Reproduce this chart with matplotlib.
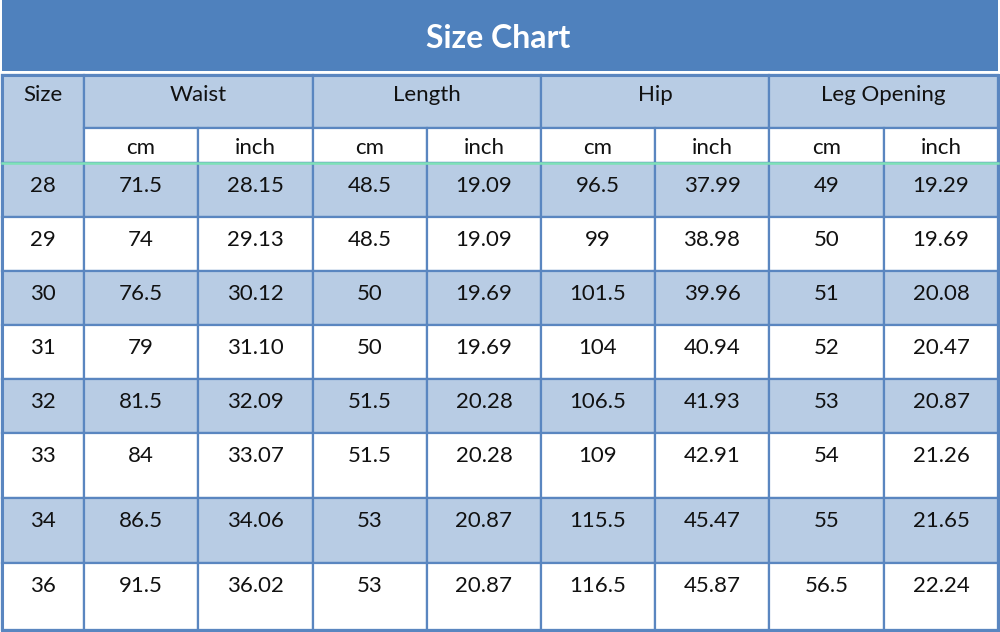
import matplotlib
matplotlib.use("Agg")
import matplotlib.pyplot as plt
from matplotlib.patches import Rectangle

plt.rcParams['font.family'] = ['Lato', 'DejaVu Sans']

# table content
title = "Size Chart"
groups = ["Waist", "Length", "Hip", "Leg Opening"]
units = ["cm", "inch"]
sizes = ['28', '29', '30', '31', '32', '33', '34', '36']
waist_cm = ['71.5', '74', '76.5', '79', '81.5', '84', '86.5', '91.5']
waist_in = ['28.15', '29.13', '30.12', '31.10', '32.09', '33.07', '34.06', '36.02']
length_cm = ['48.5', '48.5', '50', '50', '51.5', '51.5', '53', '53']
length_in = ['19.09', '19.09', '19.69', '19.69', '20.28', '20.28', '20.87', '20.87']
hip_cm = ['96.5', '99', '101.5', '104', '106.5', '109', '115.5', '116.5']
hip_in = ['37.99', '38.98', '39.96', '40.94', '41.93', '42.91', '45.47', '45.87']
leg_cm = ['49', '50', '51', '52', '53', '54', '55', '56.5']
leg_in = ['19.29', '19.69', '20.08', '20.47', '20.87', '21.26', '21.65', '22.24']

columns = [sizes, waist_cm, waist_in, length_cm, length_in, hip_cm, hip_in, leg_cm, leg_in]

# layout in pixels
xs = [2, 84, 198, 313, 427, 541, 655, 769, 884, 998]
head_top, head_mid, head_bot = 75, 128, 163
row_edges = [163, 217, 271, 325, 379, 433, 498, 563, 630]

BAND = '#4f81bd'
LIGHT = '#b8cce4'
LINE = '#5a86c0'
GREEN = '#7fe3b8'
TXT = '#111111'
FS = 16

fig = plt.figure(figsize=(10, 6.32), dpi=100)
ax = fig.add_axes([0, 0, 1, 1])
ax.set_xlim(0, 1000)
ax.set_ylim(632, 0)
ax.axis('off')


def cell(x0, x1, y0, y1, color):
    ax.add_patch(Rectangle((x0, y0), x1 - x0, y1 - y0, facecolor=color,
                           edgecolor=LINE, linewidth=1.6, zorder=1))


# title band
ax.add_patch(Rectangle((2, 0), 996, 71, facecolor=BAND, edgecolor='none'))
ax.text(498, 48, title, ha='center', va='baseline', color='white',
        fontsize=23, fontweight='bold')

# header
cell(xs[0], xs[1], head_top, head_bot, LIGHT)
ax.text((xs[0] + xs[1]) / 2, head_top + 26, "Size", ha='center', va='baseline',
        fontsize=FS, color=TXT)
for g, name in enumerate(groups):
    x0, x1 = xs[1 + 2 * g], xs[3 + 2 * g]
    cell(x0, x1, head_top, head_mid, LIGHT)
    ax.text((x0 + x1) / 2, head_top + 26, name, ha='center', va='baseline',
            fontsize=FS, color=TXT)
    for k, u in enumerate(units):
        a, b = xs[1 + 2 * g + k], xs[2 + 2 * g + k]
        cell(a, b, head_mid, head_bot, 'white')
        ax.text((a + b) / 2, head_mid + 26, u, ha='center', va='baseline',
                fontsize=FS, color=TXT)

# body
for r in range(len(sizes)):
    y0, y1 = row_edges[r], row_edges[r + 1]
    color = LIGHT if r % 2 == 0 else 'white'
    for c, col in enumerate(columns):
        cell(xs[c], xs[c + 1], y0, y1, color)
        ax.text((xs[c] + xs[c + 1]) / 2, y0 + 29, col[r], ha='center',
                va='baseline', fontsize=FS, color=TXT, zorder=3)

# outer frame and the line under the header
ax.add_patch(Rectangle((xs[0], head_top), xs[-1] - xs[0], row_edges[-1] - head_top,
                       facecolor='none', edgecolor=LINE, linewidth=2.2, zorder=2))
ax.plot([xs[0], xs[-1]], [head_bot, head_bot], color=GREEN, lw=1.8, zorder=2)

fig.savefig('out.png', dpi=100)
